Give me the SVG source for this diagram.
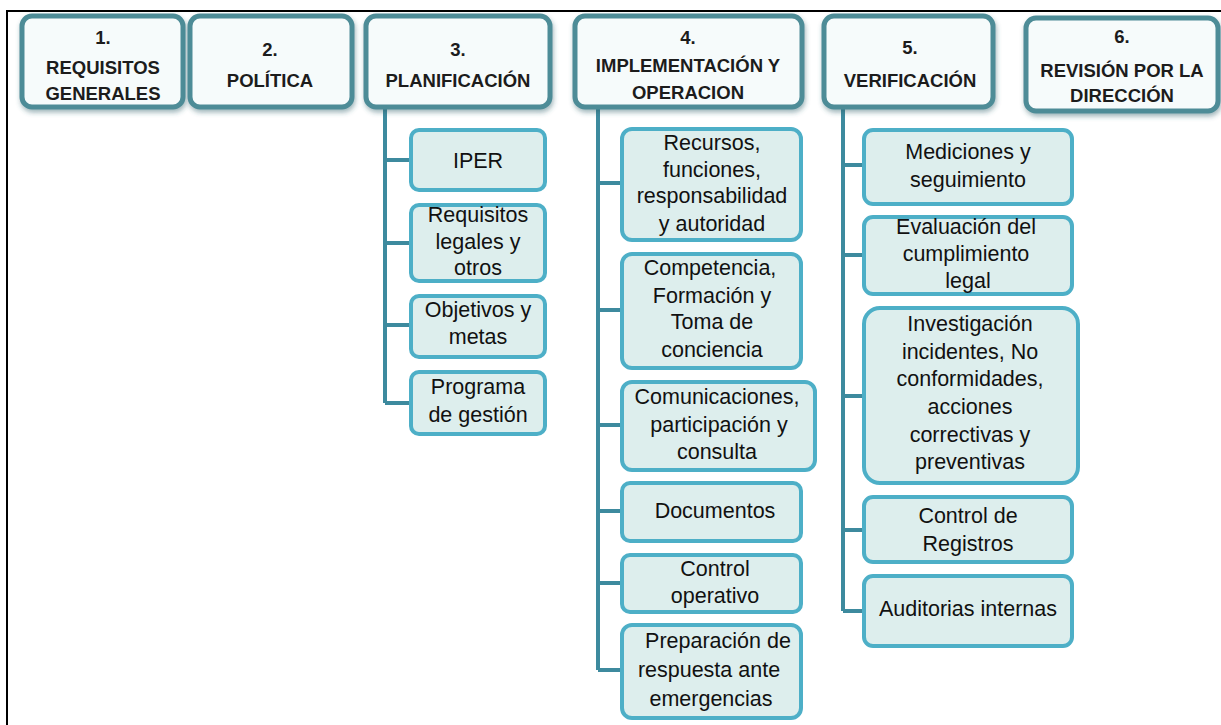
<svg xmlns="http://www.w3.org/2000/svg" width="1221" height="725" viewBox="0 0 1221 725">
<defs>
<filter id="sh" x="-10%" y="-10%" width="125%" height="130%">
<feDropShadow dx="1" dy="3" stdDeviation="2.5" flood-color="#2f5f68" flood-opacity="0.45"/>
</filter>
<style>
.hdr{fill:#f6fbfb;stroke:#4e8c97;stroke-width:5}
.chd{fill:#ddeeed;stroke:#4dafc7;stroke-width:4}
.ht{font-family:"Liberation Sans",Arial,sans-serif;font-size:18.5px;font-weight:bold;fill:#1c1c1c;text-anchor:middle}
.ct{font-family:"Liberation Sans",Arial,sans-serif;font-size:21.5px;fill:#111;text-anchor:middle}
.conn{fill:none;stroke:#3d8a9e;stroke-width:4}
</style>
</defs>
<rect x="0" y="0" width="1221" height="725" fill="#fff"/>
<path d="M7 725 V11 H1221" fill="none" stroke="#000" stroke-width="2"/>

<g id="connectors">
<path class="conn" d="M385 108 V403 M385 160 H411 M385 243 H411 M385 325 H411 M385 403 H411"/>
<path class="conn" d="M598 108 V670 M598 183 H622 M598 310 H622 M598 425 H622 M598 511 H622 M598 583 H622 M598 670 H622"/>
<path class="conn" d="M843 108 V611 M843 165 H864 M843 255 H864 M843 396 H864 M843 530 H864 M843 611 H864"/>
</g>

<g id="h1"><rect class="hdr" filter="url(#sh)" x="22" y="16" width="161" height="91" rx="10"/>
<text class="ht" x="103" y="44">1.</text><text class="ht" x="103" y="74">REQUISITOS</text><text class="ht" x="103" y="100">GENERALES</text></g>
<g id="h2"><rect class="hdr" filter="url(#sh)" x="190" y="16" width="162" height="91" rx="10"/>
<text class="ht" x="270" y="56">2.</text><text class="ht" x="270" y="87">POLÍTICA</text></g>
<g id="h3"><rect class="hdr" filter="url(#sh)" x="366" y="16" width="184" height="91" rx="10"/>
<text class="ht" x="458" y="56">3.</text><text class="ht" x="458" y="87">PLANIFICACIÓN</text></g>
<g id="h4"><rect class="hdr" filter="url(#sh)" x="575" y="16" width="227" height="91" rx="10"/>
<text class="ht" x="688" y="44">4.</text><text class="ht" x="688" y="72">IMPLEMENTACIÓN Y</text><text class="ht" x="688" y="99">OPERACION</text></g>
<g id="h5"><rect class="hdr" filter="url(#sh)" x="824" y="16" width="169" height="91" rx="10"/>
<text class="ht" x="910" y="54">5.</text><text class="ht" x="910" y="87">VERIFICACIÓN</text></g>
<g id="h6"><rect class="hdr" filter="url(#sh)" x="1026" y="18" width="192" height="93" rx="10"/>
<text class="ht" x="1122" y="43">6.</text><text class="ht" x="1122" y="77">REVISIÓN POR LA</text><text class="ht" x="1122" y="102">DIRECCIÓN</text></g>

<g id="c3a"><rect class="chd" x="411" y="130" width="134" height="60" rx="8"/><text class="ct" x="478" y="168">IPER</text></g>
<g id="c3b"><rect class="chd" x="411" y="205" width="134" height="76" rx="8"/><text class="ct" x="478" y="222">Requisitos</text><text class="ct" x="478" y="249">legales y</text><text class="ct" x="478" y="275">otros</text></g>
<g id="c3c"><rect class="chd" x="411" y="296" width="134" height="61" rx="8"/><text class="ct" x="478" y="317">Objetivos y</text><text class="ct" x="478" y="344">metas</text></g>
<g id="c3d"><rect class="chd" x="411" y="372" width="134" height="62" rx="8"/><text class="ct" x="478" y="394">Programa</text><text class="ct" x="478" y="422">de gestión</text></g>

<g id="c4a"><rect class="chd" x="622" y="129" width="179" height="111" rx="10"/><text class="ct" x="712" y="150">Recursos,</text><text class="ct" x="712" y="177">funciones,</text><text class="ct" x="712" y="203">responsabilidad</text><text class="ct" x="712" y="231">y autoridad</text></g>
<g id="c4b"><rect class="chd" x="622" y="254" width="179" height="114" rx="10"/><text class="ct" x="710" y="275">Competencia,</text><text class="ct" x="712" y="303">Formación y</text><text class="ct" x="712" y="329">Toma de</text><text class="ct" x="712" y="357">conciencia</text></g>
<g id="c4c"><rect class="chd" x="622" y="382" width="193" height="88" rx="10"/><text class="ct" x="717" y="404">Comunicaciones,</text><text class="ct" x="719" y="432">participación y</text><text class="ct" x="717" y="459">consulta</text></g>
<g id="c4d"><rect class="chd" x="622" y="483" width="179" height="58" rx="8"/><text class="ct" x="715" y="518">Documentos</text></g>
<g id="c4e"><rect class="chd" x="622" y="555" width="179" height="57" rx="8"/><text class="ct" x="715" y="576">Control</text><text class="ct" x="715" y="603">operativo</text></g>
<g id="c4f"><rect class="chd" x="622" y="625" width="179" height="93" rx="10"/><text class="ct" x="718" y="648">Preparación de</text><text class="ct" x="709" y="677">respuesta ante</text><text class="ct" x="711" y="706">emergencias</text></g>

<g id="c5a"><rect class="chd" x="864" y="130" width="208" height="74" rx="9"/><text class="ct" x="968" y="159">Mediciones y</text><text class="ct" x="968" y="187">seguimiento</text></g>
<g id="c5b"><rect class="chd" x="864" y="217" width="208" height="77" rx="9"/><text class="ct" x="966" y="234">Evaluación del</text><text class="ct" x="966" y="261">cumplimiento</text><text class="ct" x="968" y="288">legal</text></g>
<g id="c5c"><rect class="chd" x="864" y="308" width="214" height="175" rx="16"/><text class="ct" x="970" y="331">Investigación</text><text class="ct" x="970" y="359">incidentes, No</text><text class="ct" x="970" y="386">conformidades,</text><text class="ct" x="970" y="414">acciones</text><text class="ct" x="970" y="442">correctivas y</text><text class="ct" x="970" y="469">preventivas</text></g>
<g id="c5d"><rect class="chd" x="864" y="497" width="208" height="65" rx="9"/><text class="ct" x="968" y="523">Control de</text><text class="ct" x="968" y="551">Registros</text></g>
<g id="c5e"><rect class="chd" x="864" y="576" width="208" height="70" rx="9"/><text class="ct" x="968" y="616">Auditorias internas</text></g>
</svg>
